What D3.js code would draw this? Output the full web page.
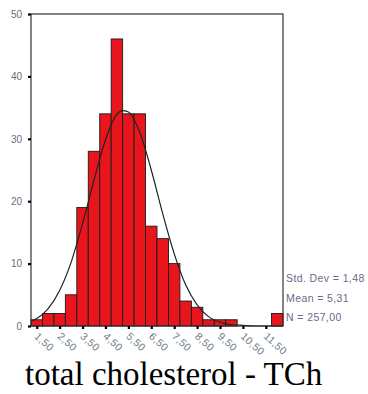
<!DOCTYPE html>
<html lang="en">
	<head>
		<meta charset="utf-8">
		<title>total cholesterol - TCh</title>
		<script type="text/javascript" src="https://d3js.org/d3.v7.min.js"></script>
		<style type="text/css">
			body { margin: 0; background: white; }
			svg { display: block; }
		</style>
	</head>
	<body>
		<svg id="chart" width="368" height="394"></svg>
		<script type="text/javascript">
			// histogram bins (centre of each 0,5 wide bin) and counts
			const binCenters = [1.5, 2.0, 2.5, 3.0, 3.5, 4.0, 4.5, 5.0, 5.5, 6.0, 6.5, 7.0,
				7.5, 8.0, 8.5, 9.0, 9.5, 10.0, 10.5, 11.0, 11.5, 12.0];
			const counts = [1, 2, 2, 5, 19, 28, 34, 46, 34, 34, 16, 14,
				10, 4, 3, 1, 1, 1, 0, 0, 0, 2];

			// normal curve
			const curveX = [1.25, 1.5, 2.0, 2.5, 3.0, 3.5, 4.0, 4.5, 5.0, 5.25, 5.5, 6.0, 6.5,
				7.0, 7.5, 8.0, 8.5, 9.0, 9.5, 10.0, 10.5, 11.0, 12.25];
			const curveY = [0.8, 1.2, 2.8, 5.7, 10.2, 16.4, 23.4, 29.8, 33.9, 34.5, 34.3, 31.0, 25.0,
				18.0, 11.6, 6.6, 3.4, 1.5, 0.6, 0.2, 0.1, 0, 0];

			const xTicks = [1.5, 2.5, 3.5, 4.5, 5.5, 6.5, 7.5, 8.5, 9.5, 10.5, 11.5];
			const yTicks = [0, 10, 20, 30, 40, 50];
			const stats = ["Std. Dev = 1,48", "Mean = 5,31", "N = 257,00"];
			const title = "total cholesterol - TCh";

			const plotLeft = 31, plotRight = 283, plotTop = 14, plotBottom = 326;
			const binWidth = 0.5;

			const svg = d3.select("#chart");

			const x = d3.scaleLinear()
				.domain([1.25, 12.25])
				.range([plotLeft, plotRight]);

			const y = d3.scaleLinear()
				.domain([0, 50])
				.range([plotBottom, plotTop]);

			const comma = v => d3.format(".2f")(v).replace(".", ",");

			// bars
			svg.append("g")
				.selectAll("rect")
				.data(binCenters.map((c, i) => ({ c: c, n: counts[i] })).filter(d => d.n > 0))
				.enter()
				.append("rect")
				.attr("x", d => x(d.c - binWidth / 2))
				.attr("width", d => x(d.c + binWidth / 2) - x(d.c - binWidth / 2))
				.attr("y", d => y(d.n))
				.attr("height", d => y(0) - y(d.n))
				.style("fill", "#e8161c")
				.style("stroke", "#1a1a1a")
				.style("stroke-width", 0.9);

			// normal curve
			const line = d3.line()
				.x(d => x(d[0]))
				.y(d => y(d[1]))
				.curve(d3.curveMonotoneX);

			svg.append("path")
				.datum(curveX.map((v, i) => [v, curveY[i]]))
				.attr("d", line)
				.style("fill", "none")
				.style("stroke", "#1c2424")
				.style("stroke-width", 1.2);

			// frame
			svg.append("rect")
				.attr("x", plotLeft)
				.attr("y", plotTop)
				.attr("width", plotRight - plotLeft)
				.attr("height", plotBottom - plotTop)
				.style("fill", "none")
				.style("stroke", "#333")
				.style("stroke-width", 1.2);

			// y axis
			const yAxis = svg.append("g")
				.attr("transform", "translate(" + plotLeft + ",0)")
				.call(d3.axisLeft(y).tickValues(yTicks).tickSize(3).tickSizeOuter(0).tickPadding(6));
			yAxis.select(".domain").remove();
			yAxis.selectAll("line").style("stroke", "#000").style("stroke-width", 2.2);
			yAxis.selectAll("text")
				.style("font-family", "Liberation Sans, Arial, sans-serif")
				.style("font-size", "10px")
				.style("fill", "#6c6a86");

			// x axis
			const xAxis = svg.append("g")
				.attr("transform", "translate(0," + plotBottom + ")")
				.call(d3.axisBottom(x).tickValues(xTicks).tickFormat(comma).tickSize(3).tickSizeOuter(0));
			xAxis.select(".domain").remove();
			xAxis.selectAll("line").style("stroke", "#000").style("stroke-width", 2.2);
			xAxis.selectAll("text")
				.attr("x", 5)
				.attr("y", 7)
				.attr("dy", "0.35em")
				.attr("transform", "rotate(42)")
				.style("text-anchor", "start")
				.style("font-family", "Liberation Sans, Arial, sans-serif")
				.style("font-size", "10.5px")
				.style("letter-spacing", "0.3px")
				.style("fill", "#6c7a86");

			// stats
			svg.append("g")
				.selectAll("text")
				.data(stats)
				.enter()
				.append("text")
				.attr("x", 286)
				.attr("y", (d, i) => 282 + i * 19.5)
				.text(d => d)
				.style("font-family", "Liberation Sans, Arial, sans-serif")
				.style("font-size", "10.5px")
				.style("letter-spacing", "0.4px")
				.style("fill", "#6c6a86");

			// title
			svg.append("text")
				.attr("x", 25)
				.attr("y", 385)
				.text(title)
				.style("font-family", "Liberation Serif, Times New Roman, serif")
				.style("font-size", "33px")
				.style("fill", "#000");
		</script>
	</body>
</html>
